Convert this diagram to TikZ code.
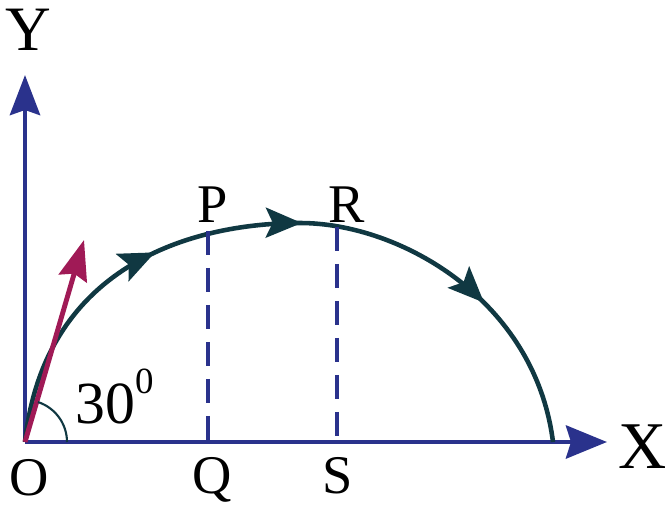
\documentclass[tikz,border=0pt]{standalone}
\usepackage{fontspec}
\setmainfont{Liberation Serif}
\usetikzlibrary{arrows.meta, decorations.markings}
\definecolor{axisblue}{RGB}{42,50,140}
\definecolor{pathteal}{RGB}{16,56,66}
\definecolor{velred}{RGB}{160,26,86}
\begin{document}
\begin{tikzpicture}[x=0.02cm, y=0.02cm,
      axis/.style={draw=axisblue, line width=2.8pt, -{Stealth[length=0.8cm, width=0.6cm, inset=0.1cm]}},
      traj/.style={draw=pathteal, line width=2.6pt,
        postaction={decorate},
        decoration={markings,
          mark=at position 0.32 with {\arrow{Stealth[length=0.72cm, width=0.6cm, inset=0.14cm]}},
          mark=at position 0.52 with {\arrow{Stealth[length=0.72cm, width=0.6cm, inset=0.14cm]}},
          mark=at position 0.79 with {\arrow{Stealth[length=0.72cm, width=0.6cm, inset=0.14cm]}}}},
      vel/.style={draw=velred, line width=2.8pt, -{Stealth[length=0.8cm, width=0.58cm, inset=0.1cm]}},
      drop/.style={draw=axisblue, line width=2.6pt, dash pattern=on 0.48cm off 0.26cm},
      lbl/.style={inner sep=0pt, anchor=base, font=\fontsize{31}{33}\selectfont}
    ]
      \useasboundingbox (0,0) rectangle (669,512);
      \coordinate (O)    at (25,70);
      \coordinate (xend) at (607,70);
      \coordinate (yend) at (25,437);
      \coordinate (top)  at (300,289);
      \coordinate (land) at (553,70);
      \coordinate (vtip) at (84,272);
      \coordinate (ptop) at (208,281);
      \coordinate (qbot) at (208,70);
      \coordinate (rtop) at (337,285);
      \coordinate (sbot) at (337,70);
      % axes
      \draw[axis] (O) -- (yend);
      \draw[axis, -{Stealth[length=0.82cm, width=0.66cm, inset=0.1cm]}] (O) -- (xend);
      % path of the projectile
      \draw[traj] (O) .. controls (45,252) and (200,289) .. (top)
                      .. controls (400,289) and (535,212) .. (land);
      \draw[drop] (ptop) -- (qbot);
      \draw[drop] (rtop) -- (sbot);
      \draw[vel] (O) -- (vtip);
      \draw[pathteal, line width=1.2pt] (O) ++(42,0) arc[start angle=0, end angle=72, radius=42];
      \node[lbl, font=\fontsize{36}{38}\selectfont] (ylbl) at (28,462) {Y};
      \node[lbl, font=\fontsize{38}{40}\selectfont] (xlbl) at (643,44) {X};
      \node[lbl] (olbl) at (29,17) {O};
      \node[lbl] (plbl) at (213,290) {P};
      \node[lbl] (rlbl) at (347,290) {R};
      \node[lbl] (qlbl) at (212,19) {Q};
      \node[lbl] (slbl) at (338,19) {S};
      \node[lbl, anchor=base west, font=\fontsize{34}{36}\selectfont] (ang) at (75,89) {30\raisebox{17pt}{\fontsize{21}{22}\selectfont 0}};
    \end{tikzpicture}
\end{document}
